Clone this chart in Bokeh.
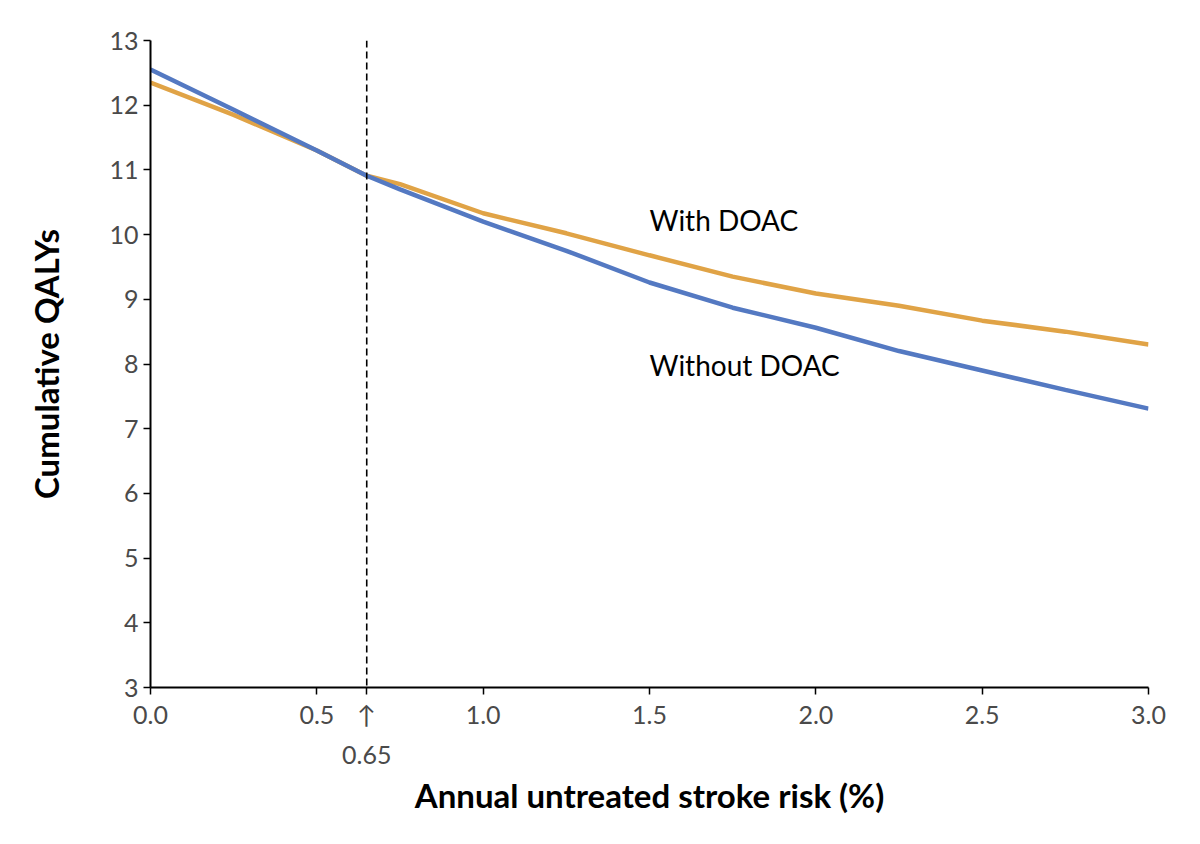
from bokeh.plotting import figure
from bokeh.models import Span, Label, FixedTicker, Range1d, NumeralTickFormatter
from bokeh.embed import file_html
from bokeh.resources import INLINE

risk = [0.0, 0.25, 0.5, 0.65, 0.75, 1.0, 1.25, 1.5, 1.75, 2.0, 2.25, 2.5, 2.75, 3.0]
without_doac = [12.55, 11.93, 11.3, 10.91, 10.7, 10.2, 9.75, 9.26, 8.87, 8.56, 8.2, 7.9, 7.6, 7.31]
with_doac = [12.35, 11.85, 11.3, 10.91, 10.78, 10.33, 10.02, 9.68, 9.35, 9.09, 8.9, 8.67, 8.5, 8.3]
x_ticks = [0.0, 0.5, 1.0, 1.5, 2.0, 2.5, 3.0]
y_ticks = [3, 4, 5, 6, 7, 8, 9, 10, 11, 12, 13]
threshold = 0.65
threshold_label = "0.65"

FONT = "Lato"

p = figure(width=1192, height=836, output_backend="svg", toolbar_location=None,
           x_range=Range1d(0, 3), y_range=Range1d(3, 13),
           min_border_left=150, min_border_right=44, min_border_top=40, min_border_bottom=149)
p.outline_line_color = None
p.grid.visible = False
p.background_fill_color = "white"
p.border_fill_color = "white"

p.line(risk, with_doac, line_color="#e0a346", line_width=4.5)
p.line(risk, without_doac, line_color="#5479c2", line_width=4.5)

p.add_layout(Span(location=threshold, dimension="height", line_color="black",
                  line_dash="7 4", line_width=1.6))

p.xaxis.ticker = FixedTicker(ticks=x_ticks + [threshold])
p.xaxis.formatter = NumeralTickFormatter(format="0.0")
p.xaxis.major_label_overrides = {threshold: "\u2191\n" + threshold_label}
p.yaxis.ticker = FixedTicker(ticks=y_ticks)
for ax in (p.xaxis, p.yaxis):
    ax.axis_line_color = "black"
    ax.axis_line_width = 2
    ax.major_tick_line_color = "black"
    ax.major_tick_line_width = 1.5
    ax.major_tick_out = 7
    ax.major_tick_in = 0
    ax.minor_tick_line_color = None
    ax.major_label_text_font = FONT
    ax.major_label_text_font_size = "25px"
    ax.major_label_text_color = "#4a4a4a"
    ax.axis_label_text_font = FONT
    ax.axis_label_text_font_size = "33px"
    ax.axis_label_text_font_style = "bold"
    ax.axis_label_text_color = "black"

p.xaxis.major_label_text_line_height = 1.35
p.xaxis.axis_label = "Annual untreated stroke risk (%)"
p.xaxis.axis_label_standoff = 3
p.xaxis.major_label_standoff = 4
p.yaxis.axis_label = "Cumulative QALYs"
p.yaxis.axis_label_standoff = 40
p.yaxis.major_label_standoff = 5

p.add_layout(Label(x=1.5, y=10.22, text="With DOAC", text_font=FONT, text_font_size="28px",
                   text_color="black", text_align="left", text_baseline="middle"))
p.add_layout(Label(x=1.5, y=7.99, text="Without DOAC", text_font=FONT, text_font_size="28px",
                   text_color="black", text_align="left", text_baseline="middle"))

open("out.html", "w").write(file_html(p, INLINE))
